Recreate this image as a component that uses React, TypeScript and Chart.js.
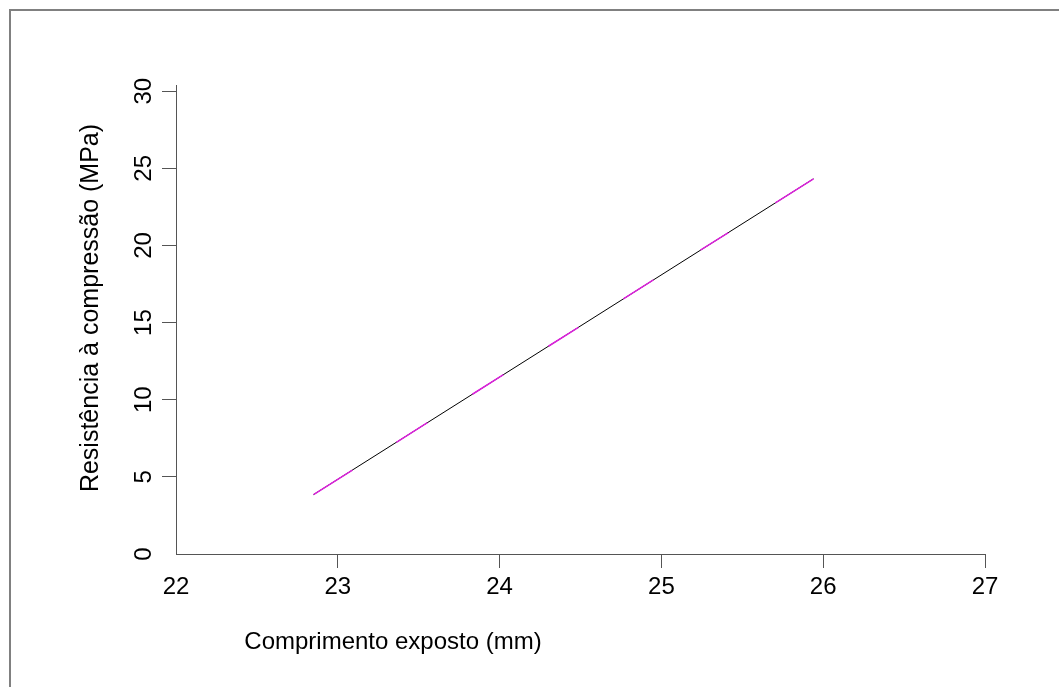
import React, { useEffect, useRef } from 'react';
import { Chart, registerables } from 'chart.js';

Chart.register(...registerables);

// Data
const fitX = [22.85, 25.94];
const fitY = [3.85, 24.32];
const xTicks = [22, 23, 24, 25, 26, 27];
const yTicks = [0, 5, 10, 15, 20, 25, 30];
const xTitle = 'Comprimento exposto (mm)';
const yTitle = 'Resistência à compressão (MPa)';

const W = 1059;
const H = 687;
const FONT = 'Arial, "Liberation Sans", Helvetica, sans-serif';
const AXIS = '#555555';

// dash pattern (pixels along the path) for the magenta overlay
const magentaDash = [46, 52, 36.7, 53.2, 36.7, 53.2, 35.5, 53.2, 35.5, 55.6, 33.1, 55.6, 46.1];

const zeroPad = (s: any) => {
  s.paddingLeft = 0;
  s.paddingRight = 0;
  s.paddingTop = 0;
  s.paddingBottom = 0;
};

export default function App() {
  const ref = useRef<HTMLCanvasElement>(null);

  useEffect(() => {
    if (!ref.current) return;
    const pts = fitX.map((x, i) => ({ x, y: fitY[i] }));

    const titles = {
      id: 'axisTitles',
      afterDraw(chart: any) {
        const { ctx, chartArea } = chart;
        ctx.save();
        ctx.fillStyle = '#000';
        ctx.textBaseline = 'alphabetic';
        ctx.textAlign = 'center';
        ctx.font = `24px ${FONT}`;
        ctx.fillText(xTitle, chartArea.left + 217, chartArea.bottom + 95);
        ctx.font = `25px ${FONT}`;
        ctx.translate(chartArea.left - 78, chartArea.top + 223);
        ctx.rotate(-Math.PI / 2);
        ctx.fillText(yTitle, 0, 0);
        ctx.restore();
      },
    };

    const tickCol = (c: any) => (c.index === 0 ? 'rgba(0,0,0,0)' : AXIS);

    const chart = new Chart(ref.current, {
      type: 'scatter',
      data: {
        datasets: [
          {
            data: pts,
            showLine: true,
            borderColor: '#dc22dc',
            borderWidth: 1.5,
            borderDash: magentaDash,
            pointRadius: 0,
            order: 0,
          },
          {
            data: pts,
            showLine: true,
            borderColor: '#000000',
            borderWidth: 1,
            pointRadius: 0,
            order: 1,
          },
        ],
      },
      plugins: [titles],
      options: {
        responsive: false,
        animation: false,
        layout: { padding: { left: 0, right: 74, top: 85, bottom: 0 } },
        plugins: {
          legend: { display: false },
          tooltip: { enabled: false },
          title: { display: false },
        },
        scales: {
          x: {
            type: 'linear',
            min: 22,
            max: 27,
            afterBuildTicks: (s: any) => {
              s.ticks = xTicks.map((v) => ({ value: v }));
            },
            afterFit: (s: any) => {
              s.height = 133;
              zeroPad(s);
            },
            border: { display: true, color: AXIS, width: 1 },
            grid: {
              display: true,
              drawOnChartArea: false,
              drawTicks: true,
              tickLength: 14,
              tickWidth: 1,
              tickColor: tickCol,
            },
            ticks: {
              color: '#000',
              font: { family: FONT, size: 24 },
              padding: 5,
              minRotation: 0,
              maxRotation: 0,
              autoSkip: false,
              callback: (v: any) => String(v),
            },
          },
          y: {
            type: 'linear',
            min: 0,
            max: 30.4,
            afterBuildTicks: (s: any) => {
              s.ticks = yTicks.map((v) => ({ value: v }));
            },
            afterFit: (s: any) => {
              s.width = 176;
              zeroPad(s);
            },
            border: { display: true, color: AXIS, width: 1 },
            grid: {
              display: true,
              drawOnChartArea: false,
              drawTicks: true,
              tickLength: 14,
              tickWidth: 1,
              tickColor: tickCol,
            },
            ticks: {
              color: '#000',
              font: { family: FONT, size: 24 },
              padding: 4,
              minRotation: 90,
              maxRotation: 90,
              crossAlign: 'center',
              autoSkip: false,
              callback: (v: any) => String(v),
            },
          },
        },
      },
    } as any);

    return () => chart.destroy();
  }, []);

  return (
    <div style={{ position: 'fixed', left: 0, top: 0, width: W, height: H, background: '#fff' }}>
      <div
        style={{
          position: 'absolute',
          left: 9,
          top: 9,
          right: 0,
          bottom: 0,
          borderLeft: '2px solid #808080',
          borderTop: '2px solid #808080',
        }}
      />
      <canvas ref={ref} width={W} height={H} style={{ position: 'absolute', left: 0, top: 0, display: 'block' }} />
    </div>
  );
}
